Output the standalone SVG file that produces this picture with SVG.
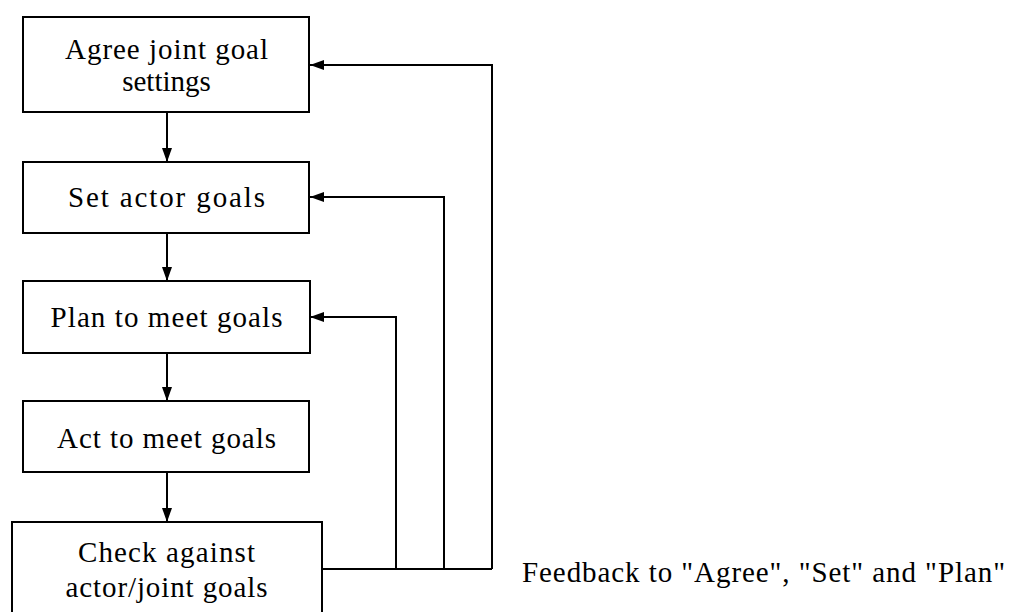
<svg xmlns="http://www.w3.org/2000/svg" width="1010" height="612" viewBox="0 0 1010 612">
  <style>
    .box { fill: #fff; stroke: #000; stroke-width: 2; }
    .wire { fill: none; stroke: #000; stroke-width: 2; }
  </style>
  <defs>
    <marker id="arrow" viewBox="0 0 14 10" refX="14" refY="5" markerWidth="14" markerHeight="10" markerUnits="userSpaceOnUse" orient="auto">
      <path d="M0,0 L14,5 L0,10 Z" fill="#000"/>
    </marker>
  </defs>
  <rect width="1010" height="612" fill="#fff"/>

  <g id="connectors">
    <!-- main sequence -->
    <line class="wire" x1="167" y1="112" x2="167" y2="162" marker-end="url(#arrow)"/>
    <line class="wire" x1="167" y1="233" x2="167" y2="281" marker-end="url(#arrow)"/>
    <line class="wire" x1="167" y1="353" x2="167" y2="401" marker-end="url(#arrow)"/>
    <line class="wire" x1="167" y1="472" x2="167" y2="522" marker-end="url(#arrow)"/>
    <!-- feedback loops -->
    <line class="wire" x1="322" y1="569" x2="492" y2="569"/>
    <polyline class="wire" points="396,569 396,317 310,317" marker-end="url(#arrow)"/>
    <polyline class="wire" points="444,569 444,197 310,197" marker-end="url(#arrow)"/>
    <polyline class="wire" points="492,569 492,65 310,65" marker-end="url(#arrow)"/>
  </g>

  <!-- all text in Times-metric serif -->
  <g font-family="Liberation Serif, serif" font-size="29" fill="#000">
    <g id="agree" text-anchor="middle">
      <rect class="box" x="23" y="17" width="286" height="95"/>
      <text x="166.5" y="59" textLength="203" lengthAdjust="spacing">Agree joint goal</text>
      <text x="166.5" y="91">settings</text>
    </g>
    <g id="set" text-anchor="middle">
      <rect class="box" x="23" y="162" width="286" height="71"/>
      <text x="166.5" y="207" textLength="197" lengthAdjust="spacing">Set actor goals</text>
    </g>
    <g id="plan" text-anchor="middle">
      <rect class="box" x="23" y="281" width="287" height="72"/>
      <text x="166.5" y="327" textLength="232" lengthAdjust="spacing">Plan to meet goals</text>
    </g>
    <g id="act" text-anchor="middle">
      <rect class="box" x="23" y="401" width="286" height="71"/>
      <text x="166.5" y="448" textLength="219" lengthAdjust="spacing">Act to meet goals</text>
    </g>
    <g id="check" text-anchor="middle">
      <rect class="box" x="12" y="522" width="310" height="95"/>
      <text x="166.5" y="562" textLength="177" lengthAdjust="spacing">Check against</text>
      <text x="166.5" y="597" textLength="202" lengthAdjust="spacing">actor/joint goals</text>
    </g>
    <g id="feedback-note">
      <text x="522" y="582" textLength="483" lengthAdjust="spacing">Feedback to "Agree", "Set" and "Plan"</text>
    </g>
  </g>
</svg>
